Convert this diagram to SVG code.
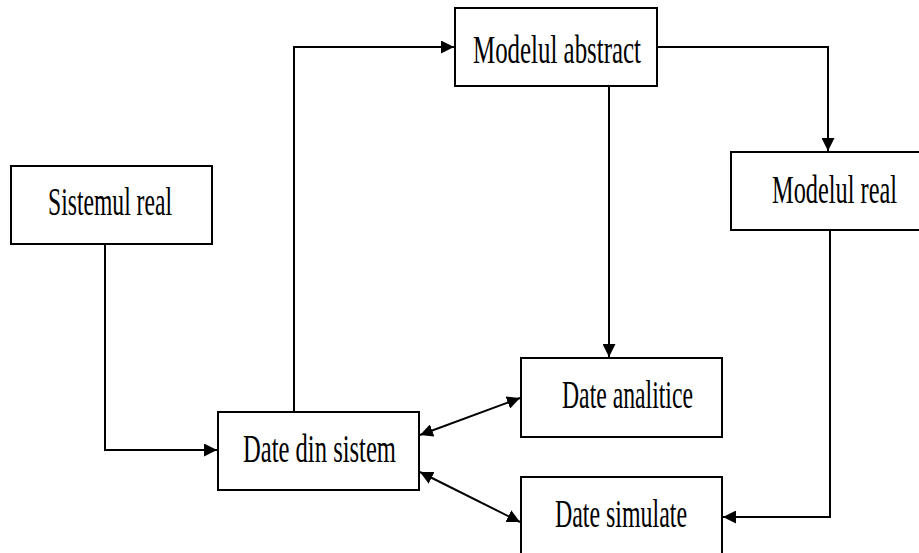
<svg xmlns="http://www.w3.org/2000/svg" width="919" height="553" viewBox="0 0 919 553">
<defs>
<style>
.box{fill:#fff;stroke:#000;stroke-width:2}
.lbl{font-family:"Liberation Serif","Times New Roman",serif;font-size:26px;fill:#000}
.c{fill:none;stroke:#000;stroke-width:2}
</style>
<marker id="ah" viewBox="0 0 12 12" refX="12" refY="6" markerWidth="13" markerHeight="13" markerUnits="userSpaceOnUse" orient="auto-start-reverse">
<path d="M0,0 L12,6 L0,12 Z" fill="#000"/>
</marker>
</defs>
<rect width="919" height="553" fill="#fff"/>
<g id="connectors">
<polyline class="c" points="105,244 105,450 217,450" marker-end="url(#ah)"/>
<polyline class="c" points="294,412 294,47 454,47" marker-end="url(#ah)"/>
<polyline class="c" points="657,47 828,47 828,151" marker-end="url(#ah)"/>
<polyline class="c" points="609,86 609,357" marker-end="url(#ah)"/>
<polyline class="c" points="830,230 830,517 723,517" marker-end="url(#ah)"/>
<line class="c" x1="420" y1="435" x2="520" y2="398" marker-start="url(#ah)" marker-end="url(#ah)"/>
<line class="c" x1="420" y1="472" x2="520" y2="522" marker-start="url(#ah)" marker-end="url(#ah)"/>
</g>
<g id="modelul-abstract">
<rect class="box" x="455" y="8" width="202" height="78"/>
<text class="lbl" transform="translate(473,63) scale(1,1.5)" textLength="168" lengthAdjust="spacingAndGlyphs">Modelul abstract</text>
</g>
<g id="sistemul-real">
<rect class="box" x="11" y="166" width="201" height="78"/>
<text class="lbl" transform="translate(48,215) scale(1,1.5)" textLength="124" lengthAdjust="spacingAndGlyphs">Sistemul real</text>
</g>
<g id="modelul-real">
<rect class="box" x="731" y="152" width="190" height="78"/>
<text class="lbl" transform="translate(772,203) scale(1,1.5)" textLength="125" lengthAdjust="spacingAndGlyphs">Modelul real</text>
</g>
<g id="date-din-sistem">
<rect class="box" x="218" y="412" width="201" height="78"/>
<text class="lbl" transform="translate(243,462) scale(1,1.5)" textLength="153" lengthAdjust="spacingAndGlyphs">Date din sistem</text>
</g>
<g id="date-analitice">
<rect class="box" x="521" y="358" width="201" height="79"/>
<text class="lbl" transform="translate(562,408) scale(1,1.5)" textLength="131" lengthAdjust="spacingAndGlyphs">Date analitice</text>
</g>
<g id="date-simulate">
<rect class="box" x="521" y="477" width="201" height="90"/>
<text class="lbl" transform="translate(555,527) scale(1,1.5)" textLength="132" lengthAdjust="spacingAndGlyphs">Date simulate</text>
</g>
</svg>
